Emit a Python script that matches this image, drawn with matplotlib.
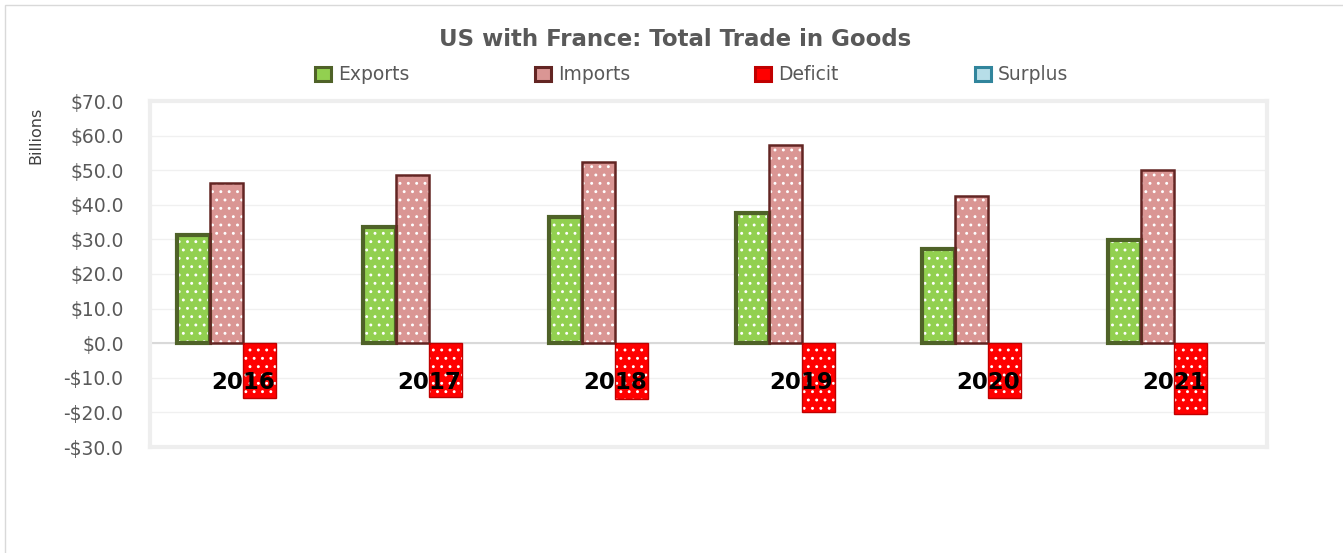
import matplotlib
matplotlib.use("Agg")
import matplotlib.pyplot as plt
import numpy as np
from matplotlib.patches import Rectangle

years = ["2016", "2017", "2018", "2019", "2020", "2021"]
exports = [31.3, 33.6, 36.5, 37.7, 27.2, 29.9]
imports = [46.4, 48.7, 52.5, 57.4, 42.6, 50.1]
deficit = [-15.9, -15.6, -16.2, -20.0, -15.9, -20.6]
surplus = [0, 0, 0, 0, 0, 0]
yticks = [-30, -20, -10, 0, 10, 20, 30, 40, 50, 60, 70]

plt.rcParams['font.family'] = ['DejaVu Sans']
plt.rcParams['hatch.linewidth'] = 0.9
fig = plt.figure(figsize=(13.43, 5.53), dpi=100)
ax = fig.add_axes([150/1343, 1-447/553, 1117/1343, 346/553])

# outer chart frame
fig.patches.append(Rectangle((5/1343, -0.1), 1.2, 1.1-5/553, transform=fig.transFigure,
                             fill=False, edgecolor='#d9d9d9', linewidth=1))

x = np.arange(len(years))
w = 33/186
series = [
    (exports, '#92d050', '#4f6228', 'Exports', 3.0),
    (imports, '#da9694', '#632523', 'Imports', 1.8),
    (deficit, '#ff0000', '#c00000', 'Deficit', 1.0),
    (surplus, '#b7dee8', '#31859c', 'Surplus', 0.0),
]
for i, (vals, fc, ec, lab, lw) in enumerate(series):
    pos = x + (i - 1.5) * w
    ax.bar(pos, vals, width=w, color=fc, edgecolor='white', linewidth=0, hatch='..', zorder=3)
    if lw > 0:
        ax.bar(pos, vals, width=w, fill=False, edgecolor=ec, linewidth=lw, zorder=4)

ax.set_xlim(-0.5, len(years) - 0.5)
ax.set_ylim(-30, 70)
ax.set_yticks(yticks)
ax.set_yticklabels([f"${v:.1f}" if v >= 0 else f"-${-v:.1f}" for v in yticks],
                   fontsize=13.5, color='#595959')
ax.set_xticks([])
ax.tick_params(axis='y', length=0, pad=19)
ax.grid(axis='y', color='#f0f0f0', linewidth=1, zorder=0)
ax.axhline(0, color='#d9d9d9', linewidth=1.5, zorder=2)
for s in ax.spines.values():
    s.set_color('#eeeeee')
    s.set_linewidth(3)

for xi, yr in zip(x, years):
    ax.text(xi, -11.3, yr, ha='center', va='center', fontsize=16.5,
            fontweight='bold', color='black', zorder=6)

fig.text(0.0265, 1-135/553, 'Billions', rotation=90, ha='center', va='center',
         fontsize=11.5, color='#404040', family='Liberation Sans Narrow')

fig.text(675/1343, 1-40/553, 'US with France: Total Trade in Goods', ha='center', va='center',
         fontsize=16.5, fontweight='bold', color='#595959')

# legend entries, evenly spaced like the original
for i, (vals, fc, ec, lab, lw) in enumerate(series):
    x0 = (315 + 220 * i) / 1343
    fig.patches.append(Rectangle((x0, 1-81/553), 16/1343, 14/553, transform=fig.transFigure,
                                 facecolor=fc, edgecolor=ec, linewidth=2.2))
    fig.text(x0 + 23/1343, 1-74/553, lab, ha='left', va='center', fontsize=13.5, color='#595959')

fig.savefig('out.png', dpi=100, facecolor='white')
